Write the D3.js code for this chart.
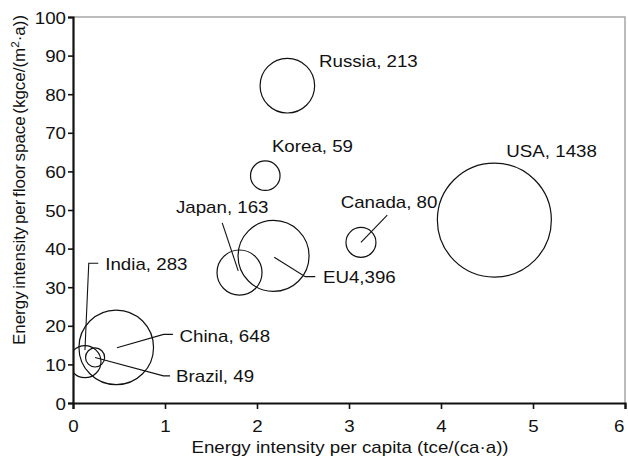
<!DOCTYPE html>
<html>
<head>
<meta charset="utf-8">
<script src="https://cdn.jsdelivr.net/npm/d3@7"></script>
<style>
  html, body { margin: 0; padding: 0; background: #fff; }
  svg { display: block; }
  text { font-family: "Liberation Sans", Arial, sans-serif; fill: #111; }
</style>
</head>
<body>
<svg id="chart" width="628" height="462"></svg>
<script>
// ---- data ----
const countries   = ["Russia", "Korea", "USA", "Canada", "EU4", "Japan", "China", "India", "Brazil"];
const perCapita   = [2.33, 2.09, 4.58, 3.13, 2.18, 1.81, 0.47, 0.13, 0.24];   // tce/(ca·a)
const perFloor    = [82.2, 58.9, 47.4, 41.6, 38.1, 33.8, 14.4, 10.7, 11.8];   // kgce/(m²·a)
const labelValues = [213, 59, 1438, 80, 396, 163, 648, 283, 49];
const bubbleSize  = [22.9, 6.7, 100, 6.9, 38.8, 15.6, 42.8, 7.9, 2.8];       // relative bubble area
const labelSep    = {"EU4": ","};                                            // label separators (default ", ")
const xTicks = [0, 1, 2, 3, 4, 5, 6];
const yTicks = [0, 10, 20, 30, 40, 50, 60, 70, 80, 90, 100];

// ---- layout (pixel offsets of labels / leader lines relative to bubble centre) ----
const layout = {
  Russia: {dx: 31.6, dy: -19},
  Korea:  {dx: 6.6,  dy: -24},
  USA:    {dx: 12,   dy: -63},
  Canada: {dx: -20.3, dy: -34.3, leader: [[0, 0], [26.3, -27.3]]},
  EU4:    {dx: 49.4, dy: 27,    leader: [[0.7, 1.3], [31.7, 20.7], [41.7, 20.7]]},
  Japan:  {dx: -63.6, dy: -59.7, leader: [[-17.3, -49.7], [-1.3, -1.7]]},
  China:  {dx: 63.3, dy: -5.6,  leader: [[0.7, 0.4], [47.3, -13], [56.7, -13]]},
  India:  {dx: 20.3, dy: -91.7, leader: [[13.3, -98.4], [3.8, -98.4], [0, -11.7]]},
  Brazil: {dx: 81,   dy: 24.4,  leader: [[0, 0], [68.3, 18.4], [75, 18.4]]}
};

const W = 628, H = 462;
const m = {left: 73, right: 3, top: 17, bottom: 59};
const FS = 16, SX = 1.17;

const svg = d3.select("#chart");
const x = d3.scaleLinear().domain([0, 6]).range([m.left, W - m.right]);
const y = d3.scaleLinear().domain([0, 100]).range([H - m.bottom, m.top]);
const r = d3.scaleSqrt().domain([0, d3.max(bubbleSize)]).range([0, 57]);

const data = countries.map((c, i) => ({
  name: c, xv: perCapita[i], yv: perFloor[i], val: labelValues[i], size: bubbleSize[i]
}));

// frame (top/right grey)
svg.append("path")
  .attr("d", `M${x(0)},${y(100)}H${x(6)}V${y(0)}`)
  .attr("fill", "none").attr("stroke", "#a6a6a6").attr("stroke-width", 1.5);

// clip for bubbles
svg.append("clipPath").attr("id", "plotclip").append("rect")
  .attr("x", x(0)).attr("y", y(100)).attr("width", x(6) - x(0)).attr("height", y(0) - y(100));

const g = svg.append("g").attr("clip-path", "url(#plotclip)");
g.selectAll("circle").data(data).join("circle")
  .attr("cx", d => x(d.xv)).attr("cy", d => y(d.yv)).attr("r", d => r(d.size))
  .attr("fill", "none").attr("stroke", "#111").attr("stroke-width", 1.2);

// leader lines
const line = d3.line();
svg.append("g").selectAll("path").data(data.filter(d => layout[d.name].leader)).join("path")
  .attr("d", d => line(layout[d.name].leader.map(p => [x(d.xv) + p[0], y(d.yv) + p[1]])))
  .attr("fill", "none").attr("stroke", "#111").attr("stroke-width", 1.1);

// labels
function stext(sel, tx, ty, anchor, sx) {
  return sel.attr("transform", `translate(${tx},${ty}) scale(${sx || SX},1)`)
    .attr("text-anchor", anchor || "start").attr("font-size", FS);
}
svg.append("g").selectAll("text").data(data).join("text")
  .each(function(d) {
    const L = layout[d.name];
    stext(d3.select(this), x(d.xv) + L.dx, y(d.yv) + L.dy)
      .text(d.name + (labelSep[d.name] || ", ") + d.val);
  });

// axes
const xAxis = svg.append("g").attr("transform", `translate(0,${y(0)})`)
  .call(d3.axisBottom(x).tickValues(xTicks).tickSize(6).tickFormat(d3.format("d")));
const yAxis = svg.append("g").attr("transform", `translate(${x(0)},0)`)
  .call(d3.axisLeft(y).tickValues(yTicks).tickSize(5).tickFormat(d3.format("d")));
[xAxis, yAxis].forEach(a => {
  a.select(".domain").attr("stroke", "#111").attr("stroke-width", 2.2);
  a.selectAll(".tick line").attr("stroke", "#111").attr("stroke-width", 1.6);
});
xAxis.selectAll(".tick text").each(function(d) {
  const t = d3.select(this);
  t.attr("y", null).attr("dy", null);
  // last label kept inside the page edge
  stext(t, d === 6 ? -1 : 0, 29, d === 6 ? "end" : "middle");
});
yAxis.selectAll(".tick text").each(function() {
  const t = d3.select(this);
  t.attr("x", null).attr("dy", null);
  stext(t, -7, 6, "end");
});

// axis titles
stext(svg.append("text"), 350, 453, "middle")
  .text("Energy intensity per capita (tce/(ca·a))");

const yt = svg.append("text")
  .attr("transform", `translate(25,180) rotate(-90) scale(1.06,1)`)
  .attr("text-anchor", "middle").attr("font-size", FS).attr("word-spacing", -2);
yt.append("tspan").text("Energy intensity per floor space (kgce/(m");
yt.append("tspan").attr("dy", -6).attr("font-size", 11).text("2");
yt.append("tspan").attr("dy", 6).text("·a))");
</script>
</body>
</html>
